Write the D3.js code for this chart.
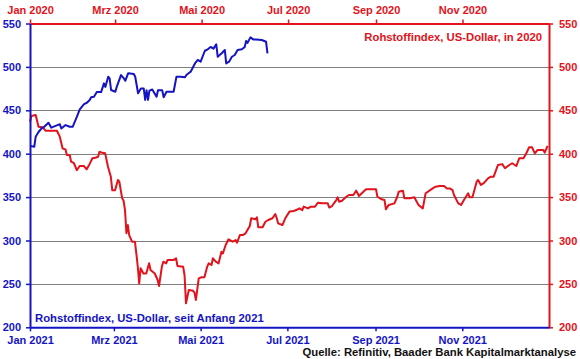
<!DOCTYPE html>
<html><head><meta charset="utf-8">
<script src="https://cdn.jsdelivr.net/npm/d3@7"></script>
<style>
html,body{margin:0;padding:0;background:#fff;}
svg{display:block;font-family:"Liberation Sans",Arial,sans-serif;font-weight:bold;}
</style></head>
<body><svg id="c" width="580" height="359"></svg>
<script>
// ---- Data ----
const dates2021 = ["2021-01-01","2021-01-04","2021-01-05","2021-01-07","2021-01-09","2021-01-11","2021-01-14","2021-01-16","2021-01-19","2021-01-22","2021-01-23","2021-01-26","2021-01-29","2021-01-31",
"2021-02-03","2021-02-05","2021-02-08","2021-02-10","2021-02-12","2021-02-13","2021-02-15","2021-02-17","2021-02-20","2021-02-22","2021-02-23","2021-02-25","2021-02-26","2021-02-27",
"2021-03-02","2021-03-03","2021-03-06","2021-03-08","2021-03-09","2021-03-11","2021-03-15","2021-03-16","2021-03-18","2021-03-20","2021-03-22","2021-03-23","2021-03-24","2021-03-25","2021-03-26","2021-03-28","2021-03-31",
"2021-04-01","2021-04-04","2021-04-05","2021-04-07","2021-04-12","2021-04-14","2021-04-17","2021-04-20","2021-04-21","2021-04-23","2021-04-24","2021-04-27","2021-04-29",
"2021-05-01","2021-05-04","2021-05-06","2021-05-08","2021-05-10","2021-05-12","2021-05-13","2021-05-16","2021-05-18","2021-05-19","2021-05-21","2021-05-23","2021-05-25","2021-05-27","2021-05-30",
"2021-06-01","2021-06-02","2021-06-03","2021-06-05","2021-06-07","2021-06-09","2021-06-13","2021-06-16","2021-06-17"];
const index2021 = [409,408,419.6,425,429,431,435.7,430,432,434,429,433,431,431,
442.6,451,457,458.7,461.8,465,465.6,471,471,481,477,488.7,486.8,473.4,
471.4,477,490.6,486.8,484,492.6,491.8,488.7,469.6,475,475,462,473,462,472.6,474,465.6,
473,473,465,471.4,471.4,488.7,488.7,488,490.6,493.3,494.5,504,508,
506,518.6,520.3,523,521,526,511.7,516,519.5,504,506,511.7,513.7,519.5,520.3,
523,530,527.7,534,531.7,531.7,531,529,515.6];

const dates2020 = ["2020-01-01","2020-01-02","2020-01-05","2020-01-07","2020-01-10","2020-01-12","2020-01-16","2020-01-20","2020-01-22","2020-01-24","2020-01-26","2020-01-27","2020-01-29","2020-01-30",
"2020-02-01","2020-02-03","2020-02-05","2020-02-08","2020-02-10","2020-02-12","2020-02-14","2020-02-16","2020-02-18","2020-02-19","2020-02-21","2020-02-23","2020-02-25","2020-02-27","2020-02-28",
"2020-03-01","2020-03-03","2020-03-04","2020-03-06","2020-03-07","2020-03-08","2020-03-09","2020-03-10","2020-03-11","2020-03-13","2020-03-15","2020-03-16","2020-03-17","2020-03-18","2020-03-19","2020-03-21","2020-03-23","2020-03-25","2020-03-26","2020-03-29","2020-03-31",
"2020-04-01","2020-04-03","2020-04-04","2020-04-06","2020-04-07","2020-04-11","2020-04-13","2020-04-14","2020-04-18","2020-04-19","2020-04-20","2020-04-22","2020-04-25","2020-04-26","2020-04-27","2020-04-29",
"2020-05-01","2020-05-03","2020-05-05","2020-05-06","2020-05-08","2020-05-09","2020-05-11","2020-05-13","2020-05-15","2020-05-16","2020-05-18","2020-05-20","2020-05-23","2020-05-25","2020-05-26","2020-05-28","2020-05-30",
"2020-06-01","2020-06-04","2020-06-05","2020-06-08","2020-06-09","2020-06-10","2020-06-13","2020-06-15","2020-06-17","2020-06-20","2020-06-22","2020-06-23","2020-06-24","2020-06-27","2020-06-29",
"2020-07-02","2020-07-05","2020-07-08","2020-07-09","2020-07-11","2020-07-12","2020-07-15","2020-07-17","2020-07-20","2020-07-22","2020-07-25","2020-07-29","2020-07-30",
"2020-08-01","2020-08-04","2020-08-05","2020-08-06","2020-08-08","2020-08-11","2020-08-13","2020-08-16","2020-08-18","2020-08-19","2020-08-20","2020-08-22","2020-08-25",
"2020-09-01","2020-09-02","2020-09-05","2020-09-07","2020-09-08","2020-09-10","2020-09-14","2020-09-16","2020-09-17","2020-09-20","2020-09-21","2020-09-25","2020-09-28",
"2020-10-01","2020-10-04","2020-10-06","2020-10-11","2020-10-13","2020-10-16","2020-10-19","2020-10-21","2020-10-23","2020-10-25","2020-10-26","2020-10-29","2020-10-31",
"2020-11-02","2020-11-05","2020-11-06","2020-11-08","2020-11-11","2020-11-12","2020-11-14","2020-11-16","2020-11-19","2020-11-21","2020-11-23","2020-11-26","2020-11-29",
"2020-12-01","2020-12-04","2020-12-06","2020-12-09","2020-12-11","2020-12-14","2020-12-16","2020-12-18","2020-12-20","2020-12-22","2020-12-24","2020-12-28","2020-12-29","2020-12-31"];
const index2020 = [436.9,443.4,444.6,431,430.4,426.5,426.5,426.5,419.6,406,405,398.5,398.5,390.8,
389,381,385.8,385.8,382,388,394.7,395.4,396.5,402.3,401,400.4,385,373.5,358,
358,369.7,367.7,348.6,345.8,335,308.3,317.8,306,298.6,298.6,285,270,250.7,268,262,262,273.7,266,262,254.5,
247.6,270,275.6,273.7,277.5,277.5,279.5,270.6,269.8,260,227.6,243,242,240,231.5,256.4,
257.6,257.6,270,273.7,271.8,279.5,275.6,273.7,287,285,294.8,301.4,298.6,300.6,297.5,306.3,306.3,
308.3,316.7,325.6,324.4,326.7,315.2,315.2,321.6,323.6,325.6,330.5,325.6,319.8,317.8,325.6,
333.3,334,336,337,335,339,337,339,339,343.5,342.8,342.8,338,
339.7,346.6,349.8,344.7,345.8,350.4,352.4,352.4,357.4,354.4,351.3,354.4,359,
359,350.4,347.5,346.6,336,341,342.8,350.4,356.2,357.4,348.6,348.6,349.8,
341,337,354.4,360.1,362,362.8,362.8,360,360,358,352.4,342.8,341,
346.6,354.4,349.8,349.8,367.7,369.7,364,366,371.6,373.5,373.5,387,388,
383.2,387,389,385.8,394.7,394.7,400.4,407.4,407.4,400.4,404.3,404.3,401.2,408.9];

const yTicks = [200,250,300,350,400,450,500,550];
const gridTicks = [250,300,350,400,450,500];
const topTickDates = ["2020-01-01","2020-03-01","2020-05-01","2020-07-01","2020-09-01","2020-11-01"];
const topTickLabels = ["Jan 2020","Mrz 2020","Mai 2020","Jul 2020","Sep 2020","Nov 2020"];
const bottomTickDates = ["2021-01-01","2021-03-01","2021-05-01","2021-07-01","2021-09-01","2021-11-01"];
const bottomTickLabels = ["Jan 2021","Mrz 2021","Mai 2021","Jul 2021","Sep 2021","Nov 2021"];
const label2020 = "Rohstoffindex, US-Dollar, in 2020";
const label2021 = "Rohstoffindex, US-Dollar, seit Anfang 2021";
const sourceText = "Quelle: Refinitiv, Baader Bank Kapitalmarktanalyse";

// ---- Drawing ----
const BLUE = "#1414c4", RED = "#e3121b";
const parse = d3.timeParse("%Y-%m-%d");
const L = 30, R = 549, T = 23.5, B = 327.3;
const svg = d3.select("#c");
const x2020 = d3.scaleTime().domain([parse("2020-01-01"), parse("2021-01-01")]).range([L, R]);
const x2021 = d3.scaleTime().domain([parse("2021-01-01"), parse("2022-01-01")]).range([L, R]);
const y = d3.scaleLinear().domain([200, 550]).range([B, T]);

// gridlines
svg.append("g").selectAll("line").data(gridTicks).join("line")
  .attr("x1", L).attr("x2", R).attr("y1", d => Math.round(y(d)) + 0.5).attr("y2", d => Math.round(y(d)) + 0.5)
  .attr("stroke", "#808080").attr("stroke-width", 1);

// lines
const s2020 = dates2020.map((d, i) => ({ d: parse(d), v: index2020[i] }));
const s2021 = dates2021.map((d, i) => ({ d: parse(d), v: index2021[i] }));
svg.append("path").datum(s2020)
  .attr("d", d3.line().x(p => x2020(p.d)).y(p => y(p.v)))
  .attr("fill", "none").attr("stroke", RED).attr("stroke-width", 2).attr("stroke-linejoin", "round");
svg.append("path").datum(s2021)
  .attr("d", d3.line().x(p => x2021(p.d)).y(p => y(p.v)))
  .attr("fill", "none").attr("stroke", BLUE).attr("stroke-width", 2).attr("stroke-linejoin", "round");

function styleAxis(g, color) {
  g.select(".domain").attr("stroke", color).attr("stroke-width", 2);
  g.selectAll(".tick line").attr("stroke", color).attr("stroke-width", 1.5);
  g.selectAll(".tick text").attr("fill", color).style("font-size", "11px").style("font-weight", "bold")
    .style("font-family", '"Liberation Sans", Arial, sans-serif');
}

// top axis (2020)
const gTop = svg.append("g").attr("transform", `translate(0,${T})`)
  .call(d3.axisTop(x2020).tickValues(topTickDates.map(parse)).tickFormat((d, i) => topTickLabels[i])
    .tickSize(4).tickSizeOuter(0).tickPadding(6));
styleAxis(gTop, RED);

// right axis (2020)
const gRight = svg.append("g").attr("transform", `translate(${R},0)`)
  .call(d3.axisRight(y).tickValues(yTicks).tickSize(4).tickSizeOuter(0).tickPadding(6));
styleAxis(gRight, RED);

// bottom axis (2021)
const gBottom = svg.append("g").attr("transform", `translate(0,${B})`)
  .call(d3.axisBottom(x2021).tickValues(bottomTickDates.map(parse)).tickFormat((d, i) => bottomTickLabels[i])
    .tickSize(4).tickSizeOuter(0).tickPadding(5));
styleAxis(gBottom, BLUE);

// left axis (2021)
const gLeft = svg.append("g").attr("transform", `translate(${L},0)`)
  .call(d3.axisLeft(y).tickValues(yTicks).tickSize(4).tickSizeOuter(0).tickPadding(5));
styleAxis(gLeft, BLUE);

// labels
svg.append("text").attr("x", 542).attr("y", 41).attr("text-anchor", "end")
  .attr("fill", RED).style("font-size", "11.3px").text(label2020);
svg.append("text").attr("x", 35).attr("y", 322).attr("text-anchor", "start")
  .attr("fill", BLUE).style("font-size", "11.3px").text(label2021);
svg.append("text").attr("x", 576).attr("y", 355.5).attr("text-anchor", "end")
  .attr("fill", "#111").style("font-size", "11.3px").text(sourceText);
</script></body></html>
